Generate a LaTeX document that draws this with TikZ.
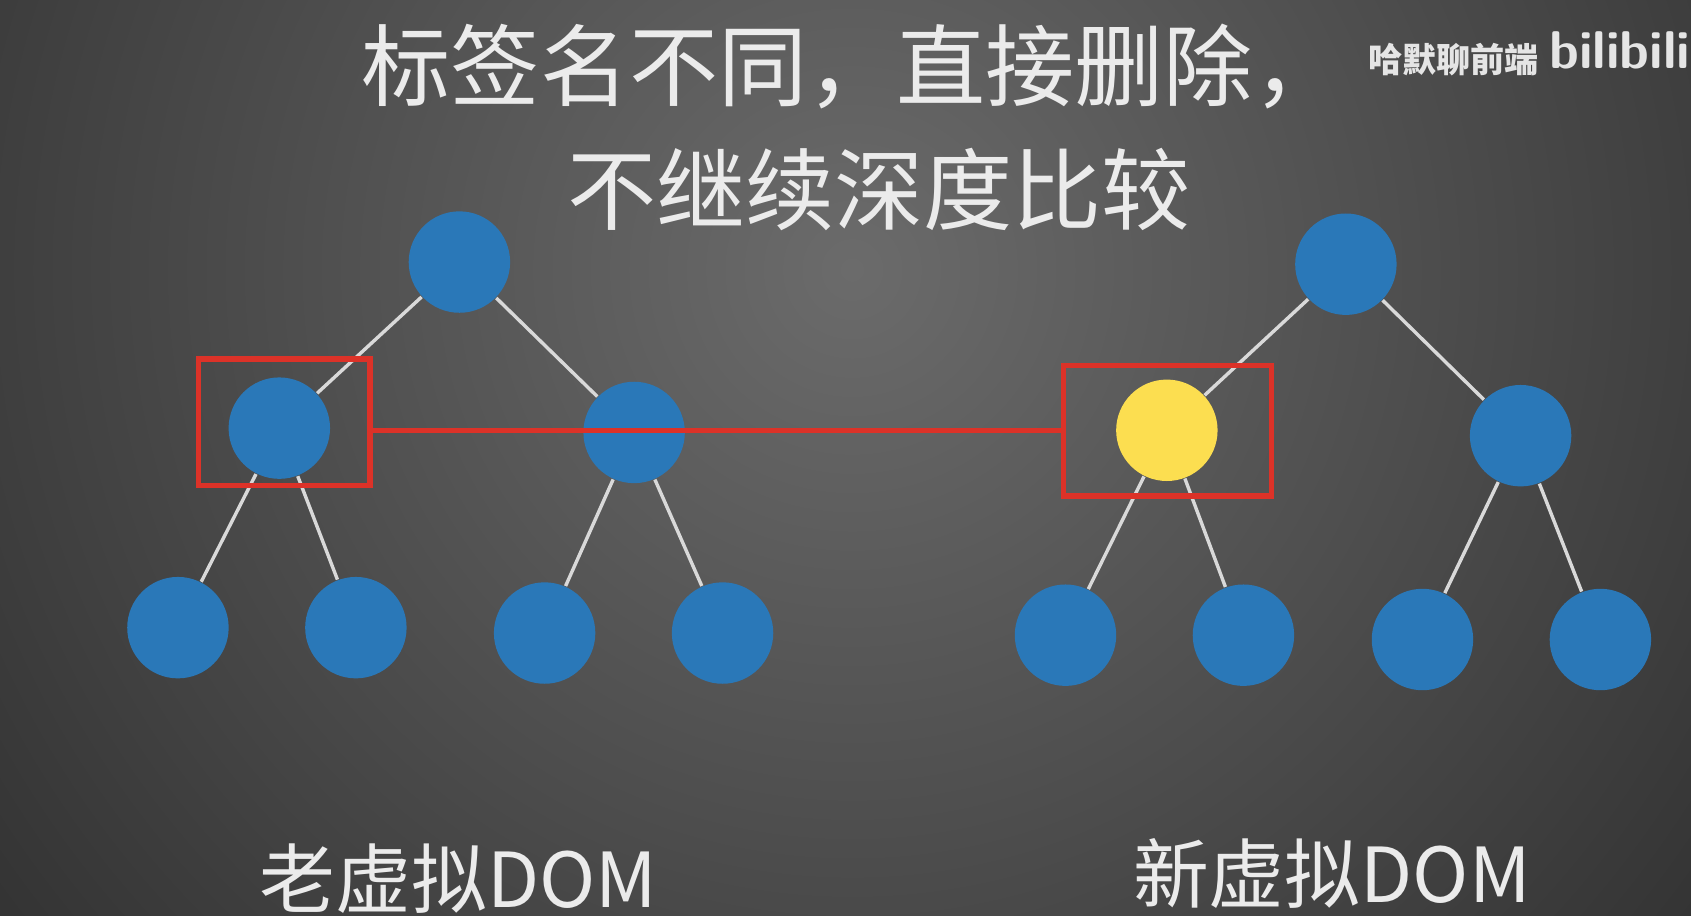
\documentclass[tikz,border=0pt]{standalone}
\usepackage{fontspec}
\newfontfamily\cjk{Noto Sans CJK SC}
\definecolor{nodeblue}{RGB}{42,120,184}
\definecolor{nodeyellow}{RGB}{252,222,80}
\definecolor{markred}{RGB}{220,50,40}
\begin{document}
\begin{tikzpicture}
    [
    x=0.01cm,y=-0.01cm,
    vnode/.style={circle,fill=nodeblue,minimum size=0.94cm,inner sep=0pt},
    hit/.style={vnode,fill=nodeyellow},
    edge/.style={draw=white!85!black,line width=0.9pt},
    markbox/.style={draw=markred,line width=1.4pt},
    title/.style={font=\cjk\fontsize{23.5}{28}\selectfont,text=white!92!black},
    label/.style={font=\cjk\fontsize{20}{24}\selectfont,text=white!92!black},
    ]
    \useasboundingbox (0,0) rectangle (1568,849);
    \begin{scope}
      \clip (0,0) rectangle (1568,849);
      \fill[black!80] (0,0) rectangle (1568,849);
      \shade[inner color=white!42!black,outer color=black!80,shading=radial]
        (790,250) circle (1000);
    \end{scope}
    % old tree
    \node[vnode] (oroot) at (426,243) {};
    \node[vnode] (oleft) at (259,397) {};
    \node[vnode] (oright) at (588,401) {};
    \node[vnode] (oll) at (165,582) {};
    \node[vnode] (olr) at (330,582) {};
    \node[vnode] (orl) at (505,587) {};
    \node[vnode] (orr) at (670,587) {};
    % new tree
    \node[vnode] (nroot) at (1248,245) {};
    \node[hit] (nleft) at (1082,399) {};
    \node[vnode] (nright) at (1410,404) {};
    \node[vnode] (nll) at (988,589) {};
    \node[vnode] (nlr) at (1153,589) {};
    \node[vnode] (nrl) at (1319,593) {};
    \node[vnode] (nrr) at (1484,593) {};
    \foreach \a/\b in {oroot/oleft,oroot/oright,oleft/oll,oleft/olr,oright/orl,oright/orr,
                      nroot/nleft,nroot/nright,nleft/nll,nleft/nlr,nright/nrl,nright/nrr}
      \draw[edge] (\a) -- (\b);
    % marks
    \node[markbox,minimum width=1.59cm,minimum height=1.17cm] (obox) at (263.5,391.5) {};
    \node[markbox,minimum width=1.93cm,minimum height=1.21cm] (nbox) at (1082.5,399.5) {};
    \draw[markbox] (obox.east |- 0,399) -- (nbox.west |- 0,399);
    % texts
    \node[title] (t1) at (790,62) {标签名不同，直接删除，};
    \node[title] (t2) at (815,176) {不继续深度比较};
    \node[font=\cjk\bfseries\fontsize{9}{11}\selectfont,text=white!90!black] (wm) at (1348,55) {哈默聊前端};
    \node[font=\sffamily\bfseries\fontsize{14}{16}\selectfont,text=white!90!black] (bl) at (1502,47) {bilibili};
    \node[label] (ol) at (425,815) {老虚拟DOM};
    \node[label] (nl) at (1235,810) {新虚拟DOM};
  \end{tikzpicture}
\end{document}
